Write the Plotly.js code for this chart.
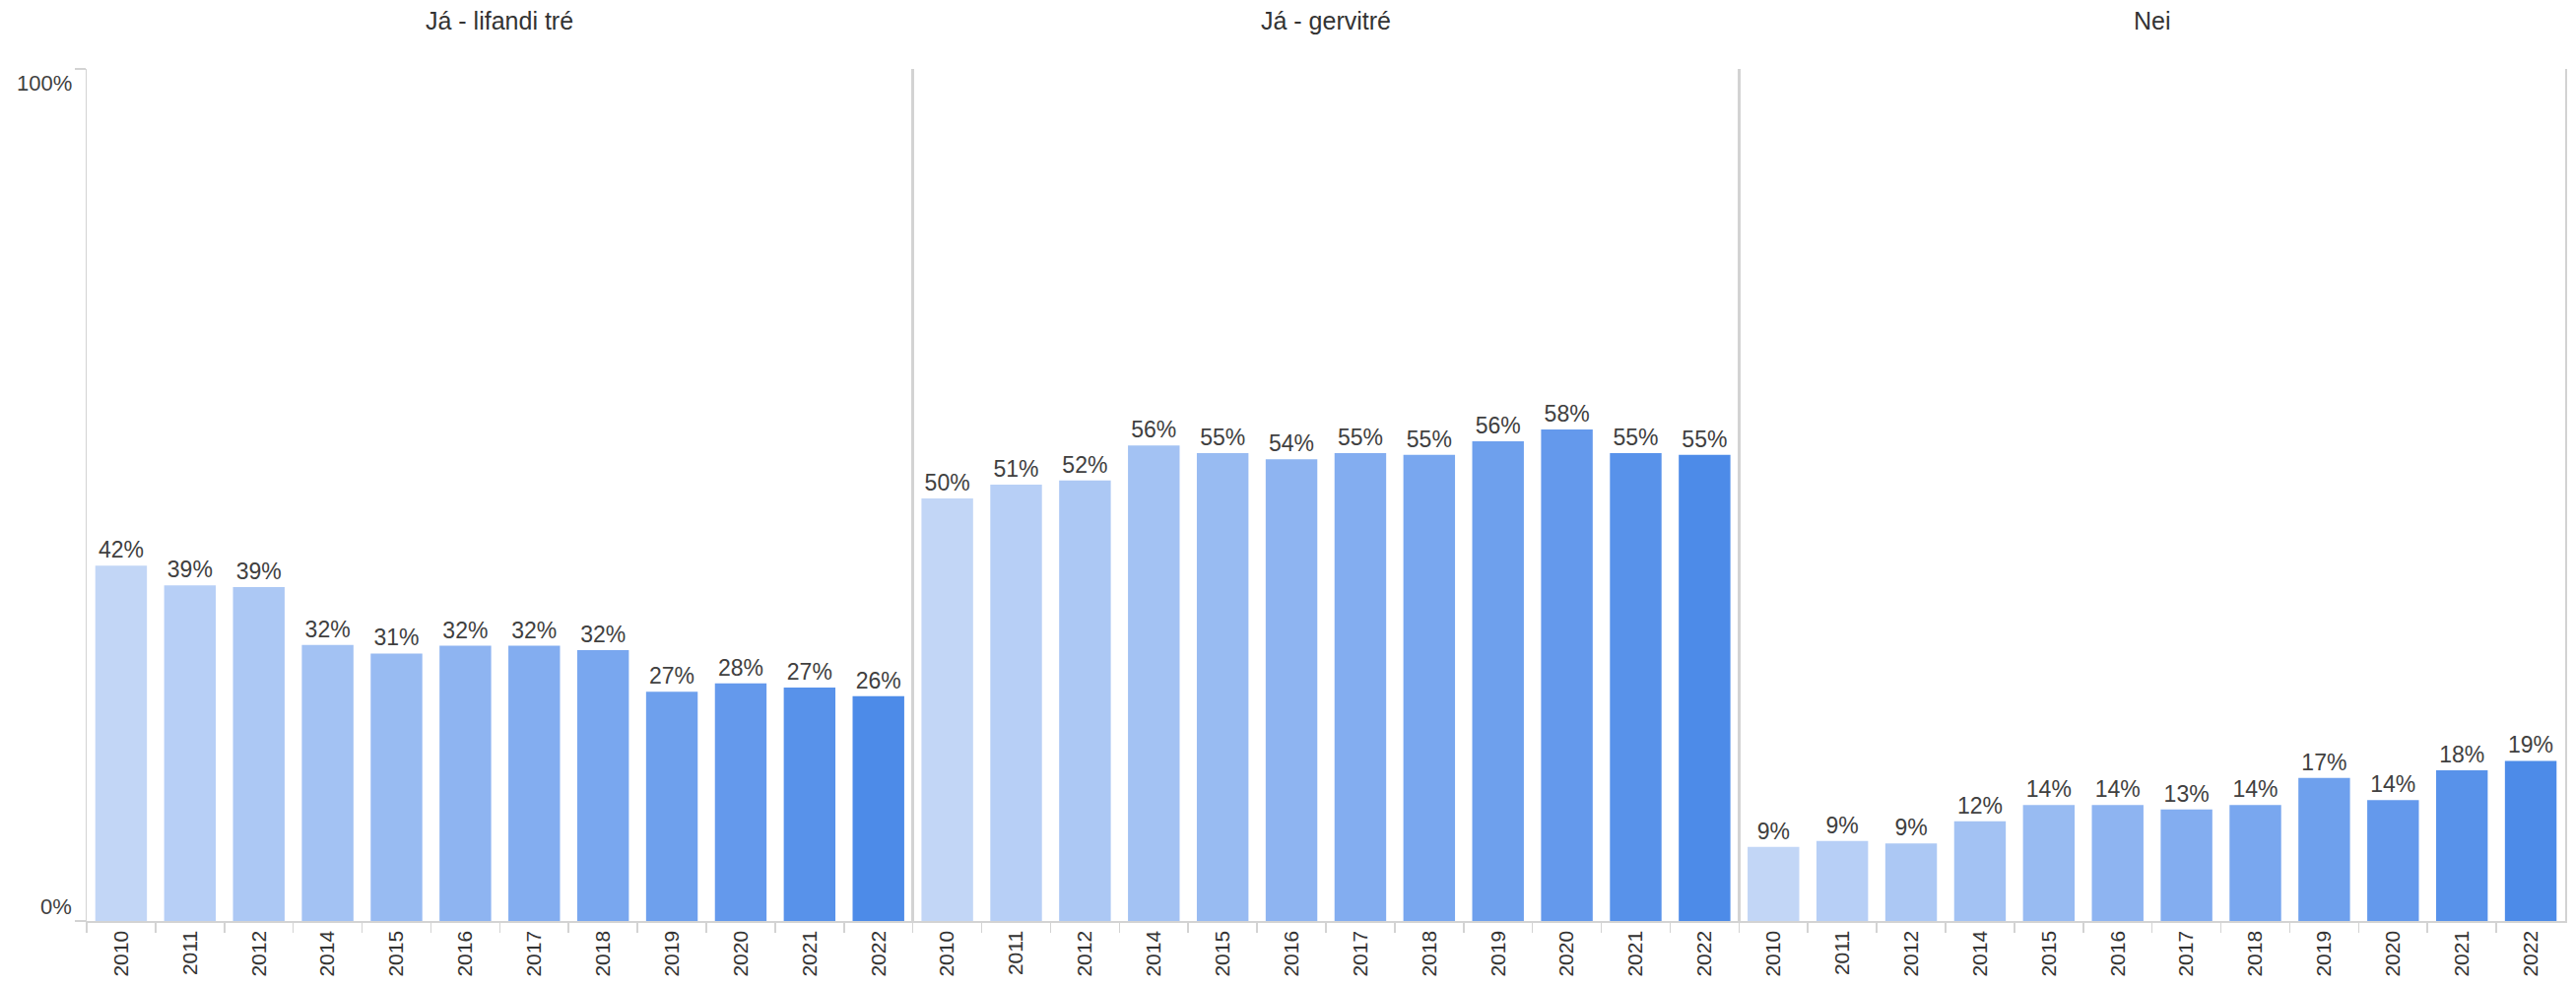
<!DOCTYPE html>
<html>
<head>
<meta charset="utf-8">
<script src="https://cdn.plot.ly/plotly-3.0.1.min.js"></script>
<style>
  html, body { margin: 0; padding: 0; background: #ffffff; }
  #chart { width: 2615px; height: 1002px; }
</style>
</head>
<body>
<div id="chart"></div>
<script>
// ---- data ----
const years = ["2010", "2011", "2012", "2014", "2015", "2016", "2017", "2018", "2019", "2020", "2021", "2022"];
const panelTitles = ["Já - lifandi tré", "Já - gervitré", "Nei"];
const lifandiTre = [41.7, 39.4, 39.2, 32.4, 31.4, 32.3, 32.3, 31.8, 26.9, 27.9, 27.4, 26.4];
const gervitre   = [49.6, 51.2, 51.7, 55.8, 54.9, 54.2, 54.9, 54.7, 56.3, 57.7, 54.9, 54.7];
const nei        = [8.7, 9.4, 9.1, 11.7, 13.6, 13.6, 13.1, 13.6, 16.8, 14.2, 17.7, 18.8];
const yearColors = ["#c2d6f6", "#b7cff6", "#acc8f4", "#a3c2f3", "#98bbf2", "#8eb4f1",
                    "#83adf0", "#79a7ef", "#6ea0ed", "#6499ec", "#5892ea", "#4d8be8"];
const yTickVals = [0, 100];
const yTickText = ["0%", "100%"];

// ---- build ----
const series = [lifandiTre, gervitre, nei];
const FONT = "Liberation Sans, Arial, sans-serif";
const gridCol = "#d3d3d3";

const traces = series.map((vals, i) => ({
  type: "bar",
  x: years,
  y: vals,
  xaxis: i === 0 ? "x" : "x" + (i + 1),
  yaxis: i === 0 ? "y" : "y" + (i + 1),
  marker: { color: yearColors, line: { width: 0 } },
  texttemplate: "%{y:.0f}%",
  textposition: "outside",
  constraintext: "none",
  cliponaxis: false,
  textfont: { family: FONT, size: 23, color: "#404040" },
  hoverinfo: "skip",
  showlegend: false
}));

const layout = {
  width: 2615,
  height: 1002,
  margin: { l: 88, r: 11, t: 70, b: 67 },
  paper_bgcolor: "#ffffff",
  plot_bgcolor: "#ffffff",
  bargap: 0.25,
  showlegend: false,
  font: { family: FONT, color: "#333333" },
  annotations: []
};

const domains = [[0, 1 / 3], [1 / 3, 2 / 3], [2 / 3, 1]];
for (let i = 0; i < 3; i++) {
  const sfx = i === 0 ? "" : String(i + 1);
  layout["xaxis" + sfx] = {
    domain: domains[i],
    anchor: "y" + sfx,
    type: "category",
    tickson: "boundaries",
    ticks: "outside",
    ticklen: 10,
    tickwidth: 1.5,
    tickcolor: gridCol,
    showline: true,
    linecolor: gridCol,
    linewidth: 1.5,
    showgrid: false,
    zeroline: false,
    tickangle: -90,
    tickfont: { family: FONT, size: 21, color: "#333333" },
    fixedrange: true
  };
  layout["yaxis" + sfx] = {
    anchor: "x" + sfx,
    range: [0, 100],
    showgrid: false,
    zeroline: false,
    showline: true,
    mirror: true,
    linecolor: gridCol,
    linewidth: 1.5,
    tickvals: yTickVals,
    ticks: i === 0 ? "outside" : "",
    ticklen: 11,
    tickwidth: 1.5,
    tickcolor: gridCol,
    showticklabels: false,
    fixedrange: true
  };
  layout.annotations.push({
    text: panelTitles[i],
    xref: "paper",
    yref: "paper",
    x: (domains[i][0] + domains[i][1]) / 2,
    y: 1.0566,
    xanchor: "center",
    yanchor: "middle",
    showarrow: false,
    font: { family: FONT, size: 25, color: "#333333" }
  });
}

// y tick labels drawn inside the range like the original
yTickVals.forEach((v, k) => {
  layout.annotations.push({
    text: yTickText[k],
    xref: "paper",
    yref: "y",
    x: 0,
    y: v,
    xanchor: "right",
    yanchor: v === 0 ? "bottom" : "top",
    xshift: -13,
    showarrow: false,
    font: { family: FONT, size: 22, color: "#404040" }
  });
});

Plotly.newPlot("chart", traces, layout, { displayModeBar: false, staticPlot: true });
</script>
</body>
</html>
